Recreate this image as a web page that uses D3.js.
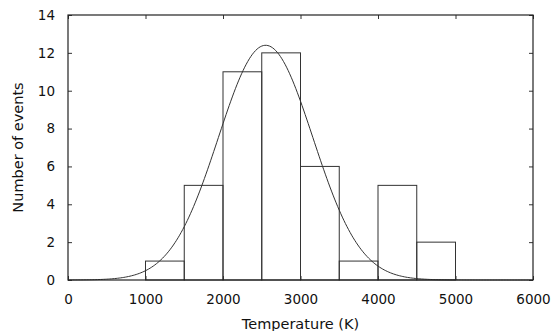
<!DOCTYPE html>
<html>
<head>
<meta charset="utf-8">
<script src="https://d3js.org/d3.v7.min.js"></script>
<style>
  body { margin: 0; background: #fff; }
  text { font-family: "DejaVu Sans", Verdana, sans-serif; fill: #111; }
</style>
</head>
<body>
<div id="chart"></div>
<script>
// histogram bins (K) and counts
const binStarts = [1000, 1500, 2000, 2500, 3000, 3500, 4000, 4500];
const binWidth = 500;
const counts = [1, 5, 11, 12, 6, 1, 5, 2];
// gaussian fit
const fitMean = 2550;
const fitSigma = 610;
const fitPeak = 12.4;
const xTicks = [0, 1000, 2000, 3000, 4000, 5000, 6000];
const yTicks = [0, 2, 4, 6, 8, 10, 12, 14];

const W = 553, H = 331;
const m = {left: 68, right: 20, top: 15, bottom: 51};

const svg = d3.select("#chart").append("svg")
  .attr("width", W).attr("height", H);

const x = d3.scaleLinear().domain([0, 6000]).range([m.left, W - m.right]);
const y = d3.scaleLinear().domain([0, 14]).range([H - m.bottom, m.top]);

// bars
svg.selectAll(".bar")
  .data(binStarts.map((s, i) => ({s: s, c: counts[i]})))
  .enter().append("rect")
  .attr("x", d => x(d.s))
  .attr("y", d => y(d.c))
  .attr("width", d => x(d.s + binWidth) - x(d.s))
  .attr("height", d => y(0) - y(d.c))
  .attr("fill", "none")
  .attr("stroke", "#333")
  .attr("stroke-width", 1);

// fit curve
const xs = d3.range(0, 6001, 20);
const line = d3.line()
  .x(t => x(t))
  .y(t => y(fitPeak * Math.exp(-Math.pow(t - fitMean, 2) / (2 * fitSigma * fitSigma))));
svg.append("path")
  .attr("d", line(xs))
  .attr("fill", "none")
  .attr("stroke", "#333")
  .attr("stroke-width", 1);

// inward ticks on all four sides
const tk = 4;
const axB = svg.append("g").attr("transform", `translate(0,${y(0)})`)
  .call(d3.axisBottom(x).tickValues(xTicks).tickFormat(d3.format("d"))
    .tickSizeInner(-tk).tickSizeOuter(0).tickPadding(14));
const axT = svg.append("g").attr("transform", `translate(0,${y(14)})`)
  .call(d3.axisTop(x).tickValues(xTicks).tickSizeInner(-tk).tickSizeOuter(0).tickFormat(""));
const axL = svg.append("g").attr("transform", `translate(${x(0)},0)`)
  .call(d3.axisLeft(y).tickValues(yTicks).tickSizeInner(-tk).tickSizeOuter(0).tickPadding(13));
const axR = svg.append("g").attr("transform", `translate(${x(6000)},0)`)
  .call(d3.axisRight(y).tickValues(yTicks).tickSizeInner(-tk).tickSizeOuter(0).tickFormat(""));

[axB, axT, axL, axR].forEach(a => {
  a.select(".domain").remove();
  a.selectAll("line").attr("stroke", "#333");
  a.selectAll("text").attr("font-size", 13.5).attr("fill", "#111")
    .attr("font-family", "DejaVu Sans, Verdana, sans-serif");
});

// frame
svg.append("rect")
  .attr("x", x(0)).attr("y", y(14))
  .attr("width", x(6000) - x(0)).attr("height", y(0) - y(14))
  .attr("fill", "none").attr("stroke", "#222").attr("stroke-width", 1.2);

// axis titles
svg.append("text")
  .attr("x", (x(0) + x(6000)) / 2).attr("y", 329)
  .attr("text-anchor", "middle").attr("font-size", 14.5)
  .text("Temperature (K)");
svg.append("text")
  .attr("transform", `translate(23,${(y(0) + y(14)) / 2}) rotate(-90)`)
  .attr("text-anchor", "middle").attr("font-size", 14.5)
  .text("Number of events");
</script>
</body>
</html>
